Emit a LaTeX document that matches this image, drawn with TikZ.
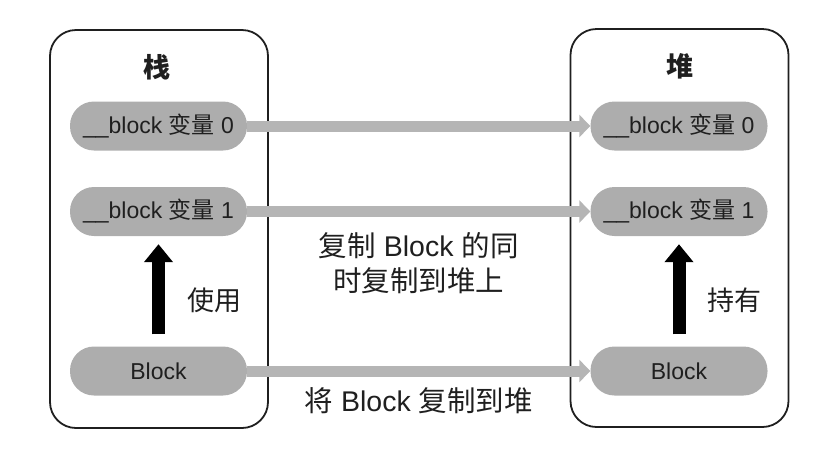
\documentclass[tikz,border=0pt]{standalone}
\usepackage{fontspec}
\setmainfont{Liberation Sans}
\newfontfamily\cjk{Noto Sans CJK SC}
\usetikzlibrary{arrows.meta,positioning}

\definecolor{pillgray}{gray}{0.68}
\definecolor{bargray}{gray}{0.71}
\definecolor{inkgray}{gray}{0.12}

\begin{document}
\begin{tikzpicture}[
  x=1pt,y=-1pt,
  font=\fontsize{23}{27}\selectfont,
  container/.style={draw=inkgray,line width=1.8pt,rounded corners=26pt,minimum width=218pt,minimum height=398pt},
  title/.style={font=\fontsize{27}{30}\selectfont\cjk\bfseries,text=inkgray},
  pill/.style={fill=pillgray,rounded corners=24pt,minimum width=177pt,minimum height=49pt,inner sep=0pt,text=inkgray},
  copyflow/.style={-{Triangle[width=22pt,length=11pt]},line width=11pt,draw=bargray},
  holdflow/.style={-{Triangle[width=28pt,length=18pt]},line width=13pt,draw=black,shorten <=12pt,shorten >=8pt},
  note/.style={font=\fontsize{28.5}{35}\selectfont,align=center,text=inkgray,inner sep=0pt},
]
\useasboundingbox (0,0) rectangle (838,448);

\node[container] (stack) at (159,229) {};
\node[container] (heap) at (679.5,228) {};
\node[title] (stacktitle) at (157,67) {栈};
\node[title] (heaptitle) at (680,66) {堆};

\node[pill] (stackvar0) at (158.5,126) {\_\_block {\cjk 变量} 0};
\node[pill] (stackvar1) at (158.5,211.5) {\_\_block {\cjk 变量} 1};
\node[pill] (stackblock) at (158.5,371) {Block};
\node[pill] (heapvar0) at (679,126) {\_\_block {\cjk 变量} 0};
\node[pill] (heapvar1) at (679,211.5) {\_\_block {\cjk 变量} 1};
\node[pill] (heapblock) at (679,371) {Block};

\draw[copyflow] (stackvar0) -- (heapvar0);
\draw[copyflow] (stackvar1) -- node[note,below=15pt] {{\cjk 复制} Block {\cjk 的同}\\{\cjk 时复制到堆上}} (heapvar1);
\draw[copyflow] (stackblock) -- node[note,below=11pt] {{\cjk 将} Block {\cjk 复制到堆}} (heapblock);

\draw[holdflow] (stackblock) -- node[note,right=22pt,pos=0.42,font=\fontsize{27}{30}\selectfont\cjk] {使用} (stackvar1);
\draw[holdflow] (heapblock) -- node[note,right=22pt,pos=0.42,font=\fontsize{27}{30}\selectfont\cjk] {持有} (heapvar1);
\end{tikzpicture}
\end{document}
